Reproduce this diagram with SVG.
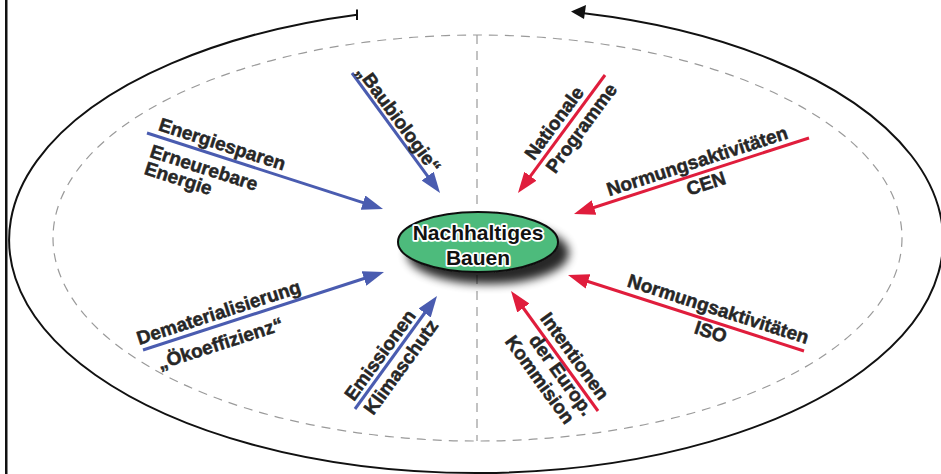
<svg xmlns="http://www.w3.org/2000/svg" width="941" height="474" viewBox="0 0 941 474">
<style>
  .lbl { font-family: "Liberation Sans", Arial, sans-serif; font-weight: bold; font-size: 19px; fill: #262626; stroke: #262626; stroke-width: 0.5; }
  .blue { stroke: #4a5cb0; stroke-width: 3; fill: none; marker-end: url(#ahB); }
  .red { stroke: #e01d3c; stroke-width: 3; fill: none; marker-end: url(#ahR); }
  .dash { stroke: #9a9a9a; stroke-width: 1.2; fill: none; stroke-dasharray: 9 7; }
  .ctr { font-family: "Liberation Sans", Arial, sans-serif; font-weight: bold; font-size: 21px; fill: #111; stroke: #fff; stroke-width: 3.5; paint-order: stroke; stroke-linejoin: round; text-anchor: middle; }
</style>
<defs>
  <marker id="ahB" markerUnits="userSpaceOnUse" viewBox="0 0 21 15" markerWidth="21" markerHeight="15" refX="13" refY="7.5" orient="auto">
    <path d="M0,0 L21,7.5 L0,15 z" fill="#4a5cb0"/>
  </marker>
  <marker id="ahR" markerUnits="userSpaceOnUse" viewBox="0 0 21 15" markerWidth="21" markerHeight="15" refX="13" refY="7.5" orient="auto">
    <path d="M0,0 L21,7.5 L0,15 z" fill="#e01d3c"/>
  </marker>
  <filter id="shadow" x="-30%" y="-50%" width="160%" height="200%">
    <feGaussianBlur in="SourceAlpha" stdDeviation="5"/>
    <feOffset dx="10" dy="11" result="b"/>
    <feComponentTransfer><feFuncA type="linear" slope="0.85"/></feComponentTransfer>
    <feMerge><feMergeNode/><feMergeNode in="SourceGraphic"/></feMerge>
  </filter>
</defs>
<rect width="941" height="474" fill="#fff"/>
<rect x="5" y="0" width="2.5" height="474" fill="#111"/>

<g id="cycle">
  <path d="M357,14.7 A467,233 0 1 0 584,13.3" fill="none" stroke="#111" stroke-width="2"/>
  <line x1="357" y1="9.5" x2="357" y2="20" stroke="#111" stroke-width="2"/>
  <polygon points="571,11.5 586,5 584,19" fill="#111"/>
</g>

<g id="boundary">
  <ellipse cx="477.5" cy="238" rx="424.5" ry="203" class="dash"/>
  <line x1="477" y1="35" x2="477" y2="441" class="dash"/>
</g>

<g id="connectors">
  <path class="blue" d="M147,133 L375.4,206.6"/>
  <path class="blue" d="M352,73 L435.3,186.6"/>
  <path class="blue" d="M143,350 L376.4,274.5"/>
  <path class="blue" d="M355,409 L432.3,302.5"/>
  <path class="red" d="M605,75 L522.7,186.6"/>
  <path class="red" d="M809,138 L581.6,211.5"/>
  <path class="red" d="M804,351 L575.6,277.5"/>
  <path class="red" d="M598,411 L515.7,297.5"/>
</g>

<g id="center">
  <ellipse cx="478" cy="242" rx="80" ry="30" fill="#4dbb7c" stroke="#111" stroke-width="2" filter="url(#shadow)"/>
  <text class="ctr" x="478" y="240">Nachhaltiges</text>
  <text class="ctr" x="478" y="265">Bauen</text>
</g>

<g id="label-energie" transform="translate(147,133) rotate(17.9)">
  <text class="lbl" x="9" y="-6">Energiesparen</text>
  <text class="lbl" x="9" y="22">Erneurebare</text>
  <text class="lbl" x="9" y="40">Energie</text>
</g>
<g id="label-baubiologie" transform="translate(352,73) rotate(53.7)">
  <text class="lbl" x="1" y="-4">„Baubiologie“</text>
</g>
<g id="label-dematerialisierung" transform="translate(143,350) rotate(-17.9)">
  <text class="lbl" x="-2" y="-6">Dematerialisierung</text>
  <text class="lbl" x="10" y="24">„Ökoeffizienz“</text>
</g>
<g id="label-emissionen" transform="translate(355,409) rotate(-54)">
  <text class="lbl" x="5" y="-5">Emissionen</text>
  <text class="lbl" x="5" y="19">Klimaschutz</text>
</g>
<g id="label-national" transform="translate(518,193) rotate(-53.6)">
  <text class="lbl" x="35" y="-6">Nationale</text>
  <text class="lbl" x="37" y="19">Programme</text>
</g>
<g id="label-cen" transform="translate(574,214) rotate(-17.9)">
  <text class="lbl" x="39" y="-6">Normungsaktivitäten</text>
  <text class="lbl" x="115" y="18">CEN</text>
</g>
<g id="label-iso" transform="translate(568,275) rotate(17.8)">
  <text class="lbl" x="59" y="-7">Normungsaktivitäten</text>
  <text class="lbl" x="137" y="17">ISO</text>
</g>
<g id="label-eu" transform="translate(511,291) rotate(54.1)">
  <text class="lbl" x="39" y="-7">Intentionen</text>
  <text class="lbl" x="50" y="15">der Europ.</text>
  <text class="lbl" x="37" y="35">Kommision</text>
</g>
</svg>
